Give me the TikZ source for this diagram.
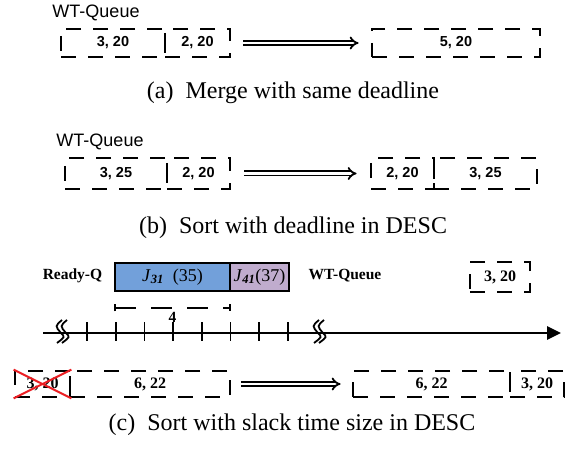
\documentclass[tikz,border=0pt]{standalone}
\usepackage{fontspec}
\setmainfont{Liberation Serif}
\newfontfamily\gulim{Liberation Sans}
\usetikzlibrary{arrows.meta,positioning,calc}
\definecolor{QBlue}{RGB}{114,160,218}
\definecolor{QPurple}{RGB}{192,172,206}
\definecolor{QRed}{RGB}{235,30,35}

\begin{document}
\begin{tikzpicture}[x=1pt,y=-1pt,
    slot/.style={draw, line width=2.8pt, dash pattern=on 15pt off 12pt, minimum height=28pt, inner sep=0pt, font=\gulim\bfseries\fontsize{14.5}{14.5}\selectfont},
    slotc/.style={slot, minimum height=26pt, font=\bfseries\fontsize{16}{16}\selectfont},
    merge/.style={double, double distance=2.4pt, line width=1.8pt, -{Implies}},
    job/.style={draw, line width=1.8pt, minimum height=28pt, inner sep=0pt, font=\fontsize{18}{18}\selectfont},
    lab/.style={font=\gulim\fontsize{18}{18}\selectfont},
    labc/.style={font=\bfseries\fontsize{15.5}{15.5}\selectfont},
    captext/.style={font=\fontsize{24}{24}\selectfont}
  ]
    \useasboundingbox (0,0) rectangle (567,454);
    % (a)
    \node[lab] (qa) at (96,13) {WT-Queue};
    \node[slot, minimum width=104pt] (a1) at (113,43) {3, 20};
    \node[slot, minimum width=65pt] (a2) at (197.5,43) {2, 20};
    \node[slot, minimum width=168pt] (a3) at (456,43) {5, 20};
    \draw[merge, shorten <=12pt, shorten >=12pt] (a2.east) -- (a3.west);
    \node[captext] (capa) at (293,93) {(a)\ \ Merge with same deadline};
    % (b)
    \node[lab] (qb) at (100,142) {WT-Queue};
    \node[slot, minimum width=102pt, minimum height=31pt] (b1) at (116,173.5) {3, 25};
    \node[slot, minimum width=63pt, minimum height=31pt] (b2) at (198.5,173.5) {2, 20};
    \node[slot, minimum width=63pt, minimum height=31pt] (b3) at (402.5,173.5) {2, 20};
    \node[slot, minimum width=103pt, minimum height=31pt] (b4) at (485.5,173.5) {3, 25};
    \draw[merge, shorten <=13pt, shorten >=13pt] (b2.east) -- (b3.west);
    \node[captext] (capb) at (293,228) {(b)\ \ Sort with deadline in DESC};
    % (c)
    \node[labc] (rq) at (72.5,276) {Ready-Q};
    \node[job, fill=QBlue, minimum width=115pt] (j31) at (172.5,277) {\textit{J}\textsubscript{\textbf{\textit{31}}}\ \ (35)};
    \node[job, fill=QPurple, minimum width=59pt] (j41) at (259.5,277) {\textit{J}\textsubscript{\textbf{\textit{41}}}(37)};
    \node[labc] (qc) at (345,276) {WT-Queue};
    \node[slotc, minimum width=60pt, minimum height=30pt] (w3) at (500,277) {3, 20};
    \draw[line width=1.8pt, dash pattern=on 21pt off 15pt, {Bar[width=7pt]}-{Bar[width=7pt]}] ([yshift=-16pt]j31.south west) -- ([yshift=-16pt]j31.south east) node[midway, below=0pt, labc] (len) {4};
    \coordinate (t0) at (43,333);
    \coordinate (t1) at (561,333);
    \draw[line width=2.6pt, -{Triangle[length=14pt, width=13pt]}] (t0) -- (t1);
    \foreach \i in {0,...,7} {\draw[line width=1.8pt] (87+28.7*\i,322) -- (87+28.7*\i,341);}
    \foreach \bx in {58,315} {
      \foreach \dx in {0,5} {\draw[line width=1.8pt] (\bx+\dx+4,320) .. controls (\bx+\dx-3,326) .. (\bx+\dx+3,333) .. controls (\bx+\dx+7,337) .. (\bx+\dx-1,343);}
    }
    \node[slotc, minimum width=55pt] (c1) at (42.5,384) {3, 20};
    \node[slotc, minimum width=160pt] (c2) at (150,384) {6, 22};
    \node[slotc, minimum width=157pt] (c3) at (431.5,384) {6, 22};
    \node[slotc, minimum width=54pt] (c4) at (537,384) {3, 20};
    \draw[QRed, line width=2pt] (c1.north west) -- (c1.south east) (c1.south west) -- (c1.north east);
    \draw[merge, shorten <=10pt, shorten >=11pt] (c2.east) -- (c3.west);
    \node[captext] (capc) at (292,425) {(c)\ \ Sort with slack time size in DESC};
\end{tikzpicture}
\end{document}
